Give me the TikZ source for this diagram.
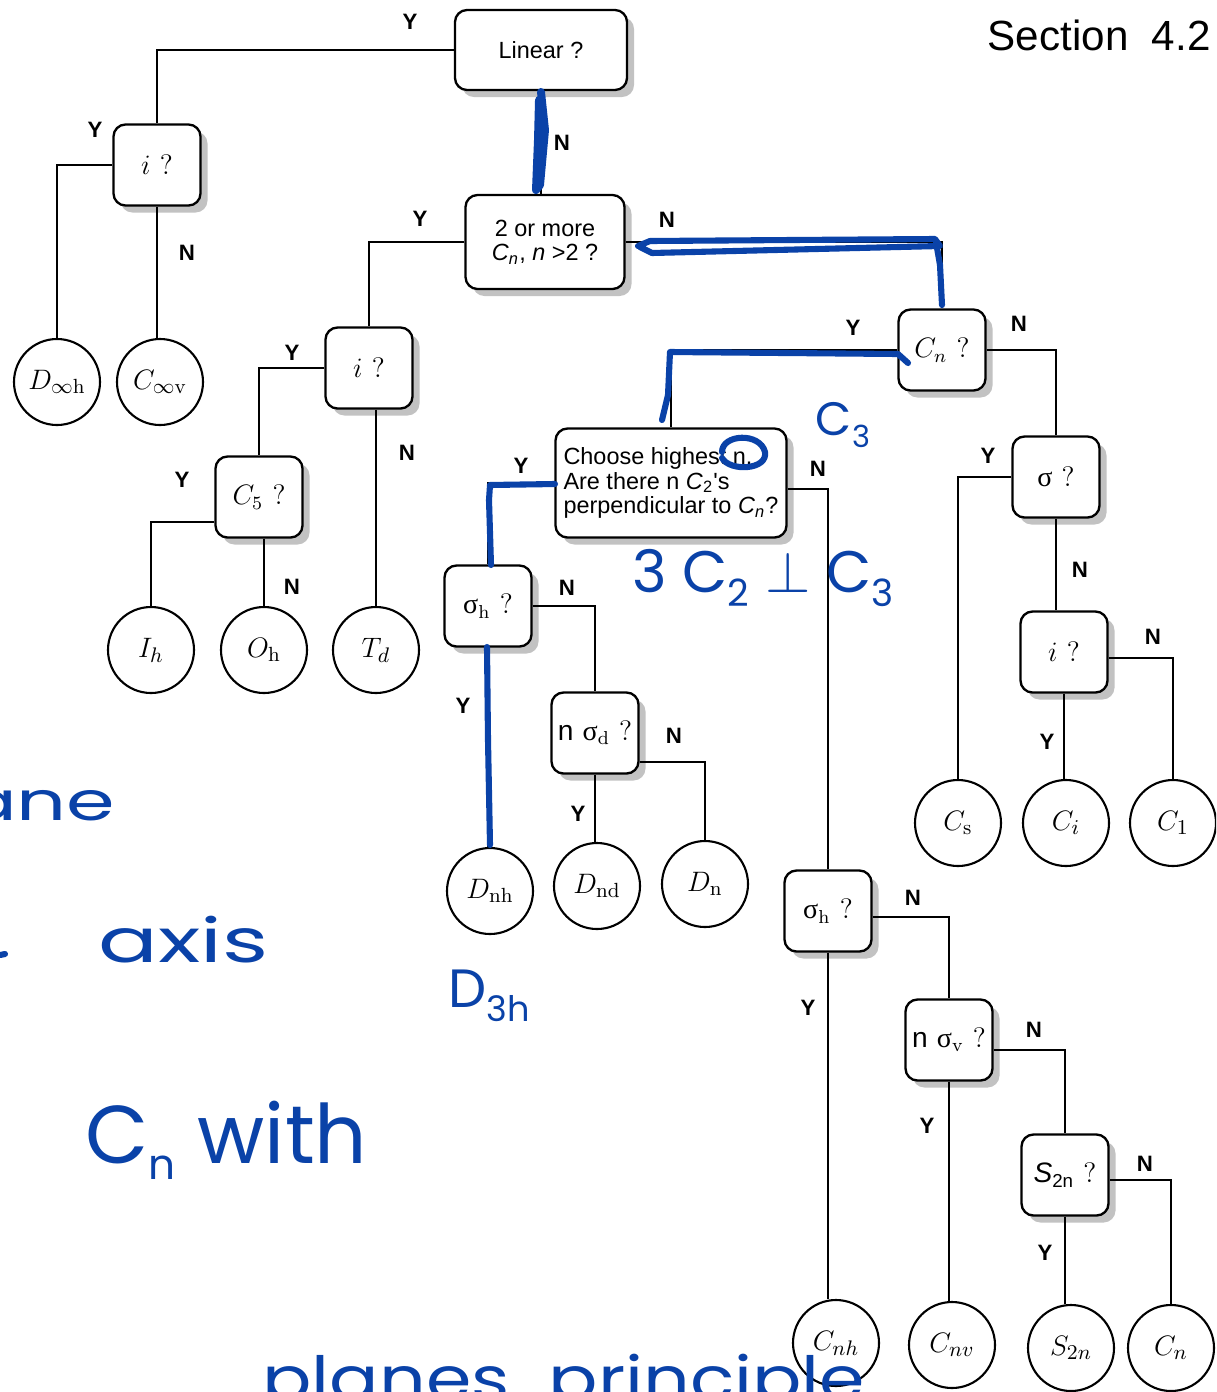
\documentclass[tikz,border=0pt]{standalone}
\usepackage{fontspec}
\newfontfamily\hv{Liberation Sans}
\newfontfamily\grk{Liberation Serif}
\newfontfamily\pen{Poppins}
\usetikzlibrary{shadows,calc}

\definecolor{penblue}{RGB}{10,66,168}

\tikzset{
  query/.style={draw, line width=1pt, rounded corners=0.18cm, fill=white,
    minimum width=1.305cm, minimum height=1.215cm, inner sep=1pt,
    font=\fontsize{12}{14}\selectfont,
    drop shadow={shadow xshift=3pt, shadow yshift=-3pt, opacity=1, fill=black!24}},
  sanstext/.style={font=\hv\fontsize{10}{10.6}\selectfont},
  pgroup/.style={circle, draw, line width=0.9pt, minimum size=1.29cm,
    inner sep=0pt, fill=white, font=\fontsize{12.5}{14}\selectfont},
  wire/.style={line width=0.85pt},
  yn/.style={font=\hv\bfseries\fontsize{9.5}{11}\selectfont},
  ink/.style={draw=penblue, line width=2.6pt, line cap=round, line join=round},
  note/.style={text=penblue, inner sep=0pt, font=\pen\fontsize{22}{24}\selectfont},
}

\begin{document}
\begin{tikzpicture}[x=0.015cm, y=-0.015cm]

\useasboundingbox (0,0) rectangle (1216,1392);
\fill[white] (0,0) rectangle (1216,1392);
\clip (0,0) rectangle (1216,1392);

% questions
\node[query, sanstext, minimum width=2.58cm, minimum height=1.2cm] (lin) at (541,50) {Linear ?};
\node[query] (ia) at (157,165) {$i$ ?};
\node[query, sanstext, minimum width=2.385cm, minimum height=1.41cm, align=center] (more) at (545,242)
  {2 or more\\ \textit{C}\textsubscript{\textit{n}}, \textit{n} >2 ?};
\node[query] (ib) at (369,368) {$i$ ?};
\node[query] (c5) at (259,497) {$C_5$ ?};
\node[query] (cn) at (942,350) {$C_n$ ?};
\node[query, sanstext, minimum width=3.465cm, minimum height=1.635cm, align=left] (ch) at (671,483)
  {Choose highest n.\\Are there n \textit{C}\textsubscript{2}'s\\perpendicular to \textit{C}\textsubscript{\textit{n}}?};
\node[query] (sg) at (1056,477) {{\grk σ} ?};
\node[query] (sha) at (488,606) {{\grk σ}$_\mathrm{h}$\ ?};
\node[query] (ic) at (1064,652) {$i$ ?};
\node[query] (nsd) at (595,733) {{\hv n} {\grk σ}$_\mathrm{d}$ ?};
\node[query] (shb) at (828,911) {{\grk σ}$_\mathrm{h}$\ ?};
\node[query] (nsv) at (949,1040) {{\hv n} {\grk σ}$_\mathrm{v}$ ?};
\node[query] (s2n) at (1065,1175) {{\hv\itshape S}{\hv\textsubscript{2n}} ?};

% point groups
\node[pgroup] (dih) at (57,382) {$D_{\infty\mathrm{h}}$};
\node[pgroup] (civ) at (160,382) {$C_{\infty\mathrm{v}}$};
\node[pgroup] (ih) at (151,650) {$I_h$};
\node[pgroup] (oh) at (264,650) {$O_\mathrm{h}$};
\node[pgroup] (td) at (376,650) {$T_d$};
\node[pgroup] (cs) at (958,823) {$C_\mathrm{s}$};
\node[pgroup] (ci) at (1066,823) {$C_i$};
\node[pgroup] (c1) at (1173,823) {$C_1$};
\node[pgroup] (dnh) at (490,891) {$D_\mathrm{nh}$};
\node[pgroup] (dnd) at (597,886) {$D_\mathrm{nd}$};
\node[pgroup] (dn) at (705,884) {$D_\mathrm{n}$};
\node[pgroup] (cnh) at (836,1343) {$C_{nh}$};
\node[pgroup] (cnv) at (952,1345) {$C_{nv}$};
\node[pgroup] (s2) at (1071,1348) {$S_{2n}$};
\node[pgroup] (cnc) at (1171,1348) {$C_n$};

\node[font=\hv\fontsize{18}{20}\selectfont, anchor=base east, inner sep=0pt] (sec) at (1211,50) {Section\ \ 4.2};

% branches
\draw[wire] (lin.west) -| (ia.north);
\draw[wire] (lin.south) -- (lin.south |- more.north);
\draw[wire] (ia.west) -| (dih.north);
\draw[wire] (ia.south) -- (ia.south |- civ.north);

\draw[wire] (more.west) -| (ib.north);
\draw[wire] (more.east) -| (cn.north);
\draw[wire] (ib.west) -| (c5.north);
\draw[wire] (td.north |- ib.south) -- (td.north);
\draw[wire] ($(c5.west)+(0,25)$) -| (ih.north);
\draw[wire] (oh.north |- c5.south) -- (oh.north);

\draw[wire] (cn.west) -| (ch.north);
\draw[wire] (cn.east) -| (sg.north);
\draw[wire] (sg.west) -| (cs.north);
\draw[wire] (sg.south) -- (sg.south |- ic.north);
\draw[wire] (ic.south) -- (ic.south |- ci.north);
\draw[wire] ($(ic.east)+(0,6)$) -| (c1.north);

\draw[wire] (ch.west) -| (sha.north);
\draw[wire] ($(ch.east)+(0,6)$) -| (shb.north);
\draw[wire] (sha.south) -- (sha.south |- dnh.north);
\draw[wire] (sha.east) -| (nsd.north);
\draw[wire] (nsd.south) -- (nsd.south |- dnd.north);
\draw[wire] ($(nsd.east)+(0,29)$) -| (dn.north);

\draw[wire] (shb.south) -- (shb.south |- cnh.north);
\draw[wire] ($(shb.east)+(0,6)$) -| (nsv.north);
\draw[wire] (nsv.south) -- (nsv.south |- cnv.north);
\draw[wire] ($(nsv.east)+(0,10)$) -| (s2n.north);
\draw[wire] (s2n.south) -- (s2n.south |- s2.north);
\draw[wire] ($(s2n.east)+(0,5)$) -| (cnc.north);

% yes / no
\node[yn] (yLin) at (410,22) {Y};
\node[yn] (nLin) at (562,143) {N};
\node[yn] (yIa) at (95,130) {Y};
\node[yn] (nIa) at (187,253) {N};
\node[yn] (yMore) at (420,219) {Y};
\node[yn] (nMore) at (667,220) {N};
\node[yn] (yIb) at (292,353) {Y};
\node[yn] (nIb) at (407,453) {N};
\node[yn] (yC5) at (182,480) {Y};
\node[yn] (nC5) at (292,587) {N};
\node[yn] (yCn) at (853,328) {Y};
\node[yn] (nCn) at (1019,324) {N};
\node[yn] (yCh) at (521,466) {Y};
\node[yn] (nCh) at (818,469) {N};
\node[yn] (ySg) at (988,456) {Y};
\node[yn] (nSg) at (1080,570) {N};
\node[yn] (yIc) at (1047,742) {Y};
\node[yn] (nIc) at (1153,637) {N};
\node[yn] (ySha) at (463,706) {Y};
\node[yn] (nSha) at (567,588) {N};
\node[yn] (yNsd) at (578,814) {Y};
\node[yn] (nNsd) at (674,736) {N};
\node[yn] (yShb) at (808,1008) {Y};
\node[yn] (nShb) at (913,898) {N};
\node[yn] (yNsv) at (927,1126) {Y};
\node[yn] (nNsv) at (1034,1030) {N};
\node[yn] (yS2n) at (1045,1253) {Y};
\node[yn] (nS2n) at (1145,1164) {N};

% pen marks
\draw[ink, line width=3.4pt] (541,92) -- (545,130) -- (540,185) -- (536,190) -- (538,140) -- (539,100);
\draw[ink] (638,246) -- (650,241) -- (935,239) -- (940,246) -- (652,253) -- (640,247);
\draw[ink] (936,242) -- (940,265) -- (942,305);
\draw[ink] (908,363) -- (898,354) -- (670,352) -- (668,395) -- (662,420);
\draw[ink] (722,452) .. controls (722,434) and (760,432) .. (765,452)
  .. controls (768,470) and (730,472) .. (722,458);
\draw[ink] (555,484) -- (490,485) -- (489,500) -- (491,565);
\draw[ink] (487,647) -- (488,740) -- (490,845);
\draw[ink] (0,955) -- (5,954);

\node[note, font=\pen\fontsize{20}{22}\selectfont] (nC3) at (843,425) {C\raisebox{-5pt}{\fontsize{13}{13}\selectfont 3}};
\node[note, font=\pen\fontsize{25}{27}\selectfont] (nPerp) at (763,578)
  {3 C\raisebox{-6pt}{\fontsize{16}{16}\selectfont 2} $\perp$ C\raisebox{-6pt}{\fontsize{16}{16}\selectfont 3}};
\node[note, font=\pen\fontsize{23}{25}\selectfont] (nD3h) at (489,996) {D\raisebox{-6pt}{\fontsize{15}{15}\selectfont 3h}};
\node[note, font=\pen\fontsize{23}{25}\selectfont, anchor=base east, xscale=1.45] (nPlane) at (116,820) {plane};
\node[note, font=\pen\fontsize{26}{28}\selectfont, anchor=base west, xscale=1.45] (nAxis) at (98,962) {axis};
\node[note, font=\pen\fontsize{35}{37}\selectfont, anchor=base west] (nCn) at (85,1163)
  {C\raisebox{-7pt}{\fontsize{18}{18}\selectfont n} with};
\node[note, font=\pen\fontsize{26}{28}\selectfont, anchor=base west, xscale=1.2] (nPrin) at (262,1400) {planes\ \ principle};

\end{tikzpicture}
\end{document}
